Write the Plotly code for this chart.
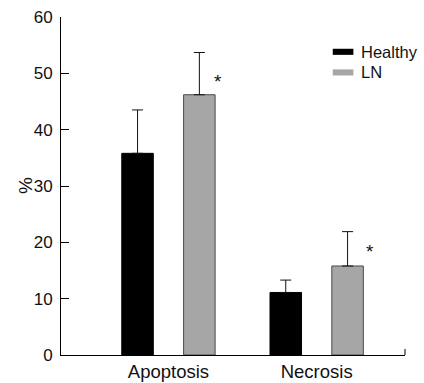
import plotly.graph_objects as go

categories = ["Apoptosis", "Necrosis"]
x_pos = [0, 1]
healthy = [35.8, 11.1]
healthy_err = [7.7, 2.2]
ln = [46.2, 15.8]
ln_err = [7.5, 6.1]
y_ticks = [0, 10, 20, 30, 40, 50, 60]
series_names = ["Healthy", "LN"]
y_title = "%"
sig_x = [0.337, 1.358]
sig_y = [48.6, 18.4]

FONT = "Liberation Sans, Arial, sans-serif"
TXT = "#111111"

fig = go.Figure()
fig.add_trace(go.Bar(
    x=x_pos, y=healthy, name=series_names[0], showlegend=False,
    marker=dict(color="#000000", line=dict(color="#000000", width=1)),
    error_y=dict(type="data", array=healthy_err, arrayminus=[0, 0], symmetric=False,
                 color="#111111", thickness=1, width=5.5),
))
fig.add_trace(go.Bar(
    x=x_pos, y=ln, name=series_names[1], showlegend=False,
    marker=dict(color="#a6a6a6", line=dict(color="#4a4a4a", width=1)),
    error_y=dict(type="data", array=ln_err, arrayminus=[0, 0], symmetric=False,
                 color="#111111", thickness=1, width=5.5),
))

# significance markers
for sx, sy in zip(sig_x, sig_y):
    fig.add_annotation(x=sx, y=sy, xref="x", yref="y", text="*", showarrow=False,
                       font=dict(family=FONT, size=19, color=TXT),
                       xanchor="center", yanchor="middle")

# manual legend (swatches + labels)
legend_colors = ["#000000", "#a6a6a6"]
legend_y = [0.897, 0.836]
for name, col, ly in zip(series_names, legend_colors, legend_y):
    fig.add_shape(type="rect", xref="paper", yref="paper",
                  x0=0.790, x1=0.850, y0=ly - 0.009, y1=ly + 0.009,
                  fillcolor=col, line=dict(width=0))
    fig.add_annotation(x=0.866, y=ly, xref="paper", yref="paper", text=name,
                       showarrow=False, xanchor="left", yanchor="middle",
                       font=dict(family=FONT, size=16.5, color=TXT))

# y axis title
fig.add_annotation(x=0, y=0.5, xref="paper", yref="paper", text=y_title,
                   showarrow=False, textangle=-90, xanchor="center", yanchor="middle",
                   xshift=-36, font=dict(family=FONT, size=19, color=TXT))

# small end tick at right of x axis
fig.add_shape(type="line", xref="paper", yref="paper", x0=1, x1=1, y0=0, y1=0.018,
              line=dict(color="#000000", width=1))

fig.update_layout(
    width=424, height=383,
    margin=dict(l=61, r=19, t=17, b=28, pad=0),
    paper_bgcolor="white", plot_bgcolor="white",
    barmode="group", bargap=0.166, bargroupgap=0.49,
    font=dict(family=FONT, color=TXT),
    showlegend=False,
)
fig.update_xaxes(
    range=[-0.725, 1.596], tickvals=x_pos, ticktext=categories, automargin=False,
    showline=True, linecolor="#000000", linewidth=1, ticks="",
    showgrid=False, zeroline=False, tickfont=dict(family=FONT, size=18.5, color=TXT),
)
fig.update_yaxes(
    range=[0, 60], tickvals=y_ticks, showline=True, linecolor="#000000", linewidth=1,
    ticks="inside", ticklen=8, tickcolor="#000000", tickwidth=1, automargin=False,
    showgrid=False, zeroline=False, ticklabelstandoff=4,
    tickfont=dict(family=FONT, size=17, color=TXT),
)

fig.write_html("out.html")
